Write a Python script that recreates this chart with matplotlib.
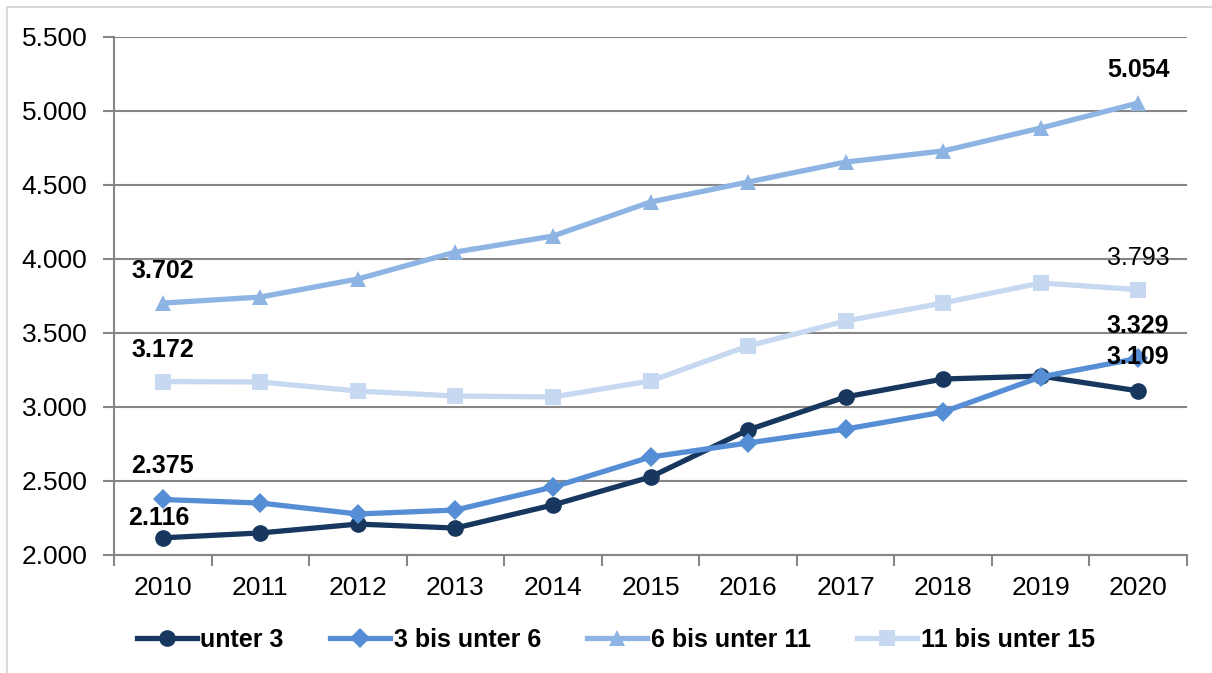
import matplotlib
matplotlib.use("Agg")
import matplotlib.pyplot as plt
from matplotlib.lines import Line2D
from matplotlib.patches import Rectangle

plt.rcParams['font.family'] = ['Liberation Sans', 'DejaVu Sans']

years = ["2010", "2011", "2012", "2013", "2014", "2015",
         "2016", "2017", "2018", "2019", "2020"]
unter_3 = [2116, 2149, 2209, 2182, 2338, 2527, 2845, 3068, 3189, 3209, 3109]
bis_6 = [2375, 2351, 2277, 2304, 2459, 2662, 2757, 2851, 2966, 3203, 3329]
bis_11 = [3702, 3743, 3865, 4047, 4155, 4385, 4520, 4655, 4730, 4885, 5054]
bis_15 = [3172, 3169, 3108, 3074, 3068, 3176, 3412, 3581, 3703, 3838, 3793]
series_names = ["unter 3", "3 bis unter 6", "6 bis unter 11", "11 bis unter 15"]
y_ticks = [2000, 2500, 3000, 3500, 4000, 4500, 5000, 5500]

colors = ["#17375E", "#558ED5", "#8EB4E3", "#C6D9F1"]
markers = ["o", "D", "^", "s"]
msizes = [12, 10, 12, 11]


def de_fmt(v):
    return f"{v:,.0f}".replace(",", ".")


fig = plt.figure(figsize=(12.12, 6.73), dpi=100)
ax = fig.add_axes([114 / 1212, 1 - 555 / 673, 1073 / 1212, (555 - 37) / 673])

x = list(range(len(years)))
all_series = [unter_3, bis_6, bis_11, bis_15]
for vals, c, m, ms, name in zip(all_series, colors, markers, msizes, series_names):
    ax.plot(x, vals, color=c, lw=3.8, marker=m, markersize=ms,
            markeredgewidth=0, label=name, zorder=3)

ax.set_xlim(-0.5, len(years) - 0.5)
ax.set_ylim(2000, 5500)
ax.set_yticks(y_ticks)
ax.set_yticklabels([de_fmt(v) for v in y_ticks], fontsize=19)
ax.set_xticks([i - 0.5 for i in range(len(years) + 1)])
ax.set_xticklabels([])
ax.set_xticks(x, minor=True)
ax.set_xticklabels(years, minor=True, fontsize=19)
ax.tick_params(axis='x', which='minor', length=0, pad=15)
ax.tick_params(axis='x', which='major', length=8, width=1.5, color="#868686")
ax.tick_params(axis='y', length=8, width=1.5, color="#868686", pad=11)
ax.yaxis.grid(True, color="#868686", lw=1.5)
ax.set_axisbelow(True)
for s in ["top", "right"]:
    ax.spines[s].set_visible(False)
for s in ["left", "bottom"]:
    ax.spines[s].set_color("#868686")
    ax.spines[s].set_linewidth(1.5)

# value labels at the first and last year (offsets in points to the baseline)
lab_kw = dict(ha="center", va="baseline", fontsize=18, color="black",
              textcoords="offset points")
last = len(years) - 1
labels = [
    (0, unter_3[0], (-3, 9), "bold"),
    (0, bis_6[0], (0, 19), "bold"),
    (0, bis_11[0], (0, 18), "bold"),
    (0, bis_15[0], (0, 18), "bold"),
    (last, bis_11[last], (0, 19), "bold"),
    (last, bis_15[last], (0, 18), "normal"),
    (last, bis_6[last], (0, 18), "bold"),
    (last, unter_3[last], (0, 19), "bold"),
]
for xi, v, off, w in labels:
    ax.annotate(de_fmt(v), (xi, v), xytext=off, fontweight=w, **lab_kw)

handles = [Line2D([], [], color=c, lw=3.8, marker=m, markersize=ms, markeredgewidth=0)
           for c, m, ms in zip(colors, markers, msizes)]
fig.legend(handles, series_names, loc="center", bbox_to_anchor=(0.508, 1 - 640 / 673),
           ncol=4, frameon=False, handlelength=2.4, handletextpad=0.15,
           columnspacing=1.85, prop=dict(size=18, weight="bold"))

# thin border around the chart area
fig.patches.append(Rectangle((7 / 1212, -0.1), 1.2, 1 - 7 / 673 + 0.1,
                             transform=fig.transFigure, fill=False,
                             edgecolor="#D9D9D9", lw=1.5))

fig.savefig("out.png", dpi=100)
